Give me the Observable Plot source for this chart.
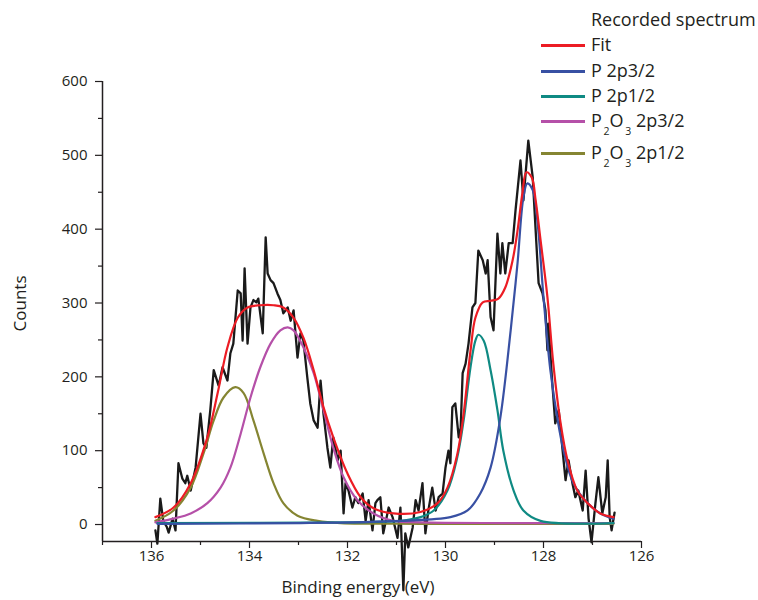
<!DOCTYPE html>
<html>
<head>
<meta charset="utf-8">
<script src="https://cdn.jsdelivr.net/npm/d3@7"></script>
<script src="https://cdn.jsdelivr.net/npm/@observablehq/plot@0.6"></script>
<style>
  html, body { margin: 0; padding: 0; background: #fff; }
  #wrap { position: relative; width: 758px; height: 600px; overflow: hidden; font-family: "Open Sans", sans-serif; color: #231f20; }
  #wrap svg.chart { position: absolute; left: 0; top: 0; }
  .leg { position: absolute; left: 591px; font-size: 18px; line-height: 1; white-space: nowrap; }
  .sw { position: absolute; left: 541px; width: 44px; height: 2.6px; }
  .leg sub { font-size: 10.5px; vertical-align: -8px; }
</style>
</head>
<body>
<div id="wrap"></div>
<script>
// ---- Data ----
const recordedEnergy = [135.92,135.88,135.82,135.76,135.69,135.65,135.57,135.51,135.45,135.37,135.31,135.27,135.20,135.10,135.00,134.94,134.88,134.80,134.73,134.63,134.55,134.45,134.39,134.33,134.24,134.18,134.14,134.10,134.04,133.98,133.92,133.86,133.82,133.73,133.67,133.63,133.57,133.51,133.43,133.37,133.31,133.22,133.16,133.10,133.02,132.96,132.90,132.82,132.76,132.69,132.61,132.55,132.49,132.41,132.35,132.29,132.20,132.14,132.08,132.04,131.98,131.90,131.84,131.78,131.69,131.63,131.57,131.49,131.43,131.39,131.33,131.27,131.16,131.08,130.98,130.92,130.86,130.82,130.76,130.67,130.61,130.55,130.47,130.41,130.35,130.27,130.20,130.14,130.06,130.00,129.94,129.90,129.86,129.80,129.73,129.69,129.65,129.59,129.53,129.45,129.39,129.33,129.24,129.18,129.14,129.08,129.02,128.94,128.88,128.84,128.78,128.71,128.63,128.57,128.51,128.47,128.41,128.31,128.22,128.16,128.10,128.02,127.96,127.92,127.90,127.82,127.76,127.69,127.61,127.55,127.49,127.41,127.35,127.29,127.20,127.14,127.08,127.02,126.94,126.88,126.80,126.73,126.69,126.65,126.61,126.55];
const recordedCounts = [-8,-26,35,5,-3,-11,8,-8,83,62,56,66,46,77,150,110,104,155,209,188,213,195,232,245,317,313,249,347,245,294,304,301,306,259,389,340,331,327,313,304,286,294,276,290,226,259,249,199,164,141,131,195,150,104,77,118,87,100,15,56,46,23,37,29,42,5,33,-8,29,33,37,-12,23,10,-18,23,-89,-12,-31,-4,33,19,56,-12,19,50,19,37,42,77,100,83,159,164,118,131,205,218,245,294,300,371,358,340,358,281,263,394,340,381,340,381,381,426,466,493,439,520,470,398,327,313,290,236,272,191,137,155,100,60,87,56,37,46,19,73,8,-24,29,64,15,37,87,10,-8,16];

const fitEnergy = [135.92,135.55,135.20,134.86,134.65,134.45,134.24,134.04,133.78,133.51,133.31,133.10,132.90,132.69,132.49,132.29,132.00,131.73,131.47,131.06,130.51,130.16,129.96,129.76,129.63,129.49,129.39,129.24,129.08,128.92,128.78,128.63,128.53,128.43,128.35,128.24,128.16,128.06,127.92,127.80,127.65,127.51,127.31,127.10,126.84,126.57];
const fitCounts = [10,23,56,118,178,240,280,294,297,297,294,280,253,209,159,118,69,37,22,15,17,29,50,95,150,235,280,301,303,306,321,358,398,449,477,470,439,385,308,218,137,87,46,29,15,10];

const p2p32Energy = [135.88,132.96,130.92,129.90,129.55,129.29,129.08,128.88,128.67,128.53,128.41,128.33,128.22,128.12,128.00,127.86,127.71,127.59,127.39,127.10,126.84,126.57];
const p2p32Counts = [1,2,5,10,19,42,77,145,263,354,443,462,453,408,308,209,141,100,56,29,15,8];

const p2p12Energy = [135.88,131.94,130.92,130.51,130.24,129.96,129.76,129.63,129.49,129.39,129.33,129.22,129.08,128.94,128.82,128.61,128.41,128.06,126.57];
const p2p12Counts = [2,3,5,10,19,46,91,141,213,249,257,249,209,155,100,46,19,5,2];

const oxide2p32Energy = [135.92,135.55,135.20,134.86,134.59,134.39,134.18,133.98,133.78,133.57,133.37,133.22,133.10,132.90,132.69,132.49,132.29,132.08,131.80,131.47,131.06,130.51,128.88,126.57];
const oxide2p32Counts = [3,8,15,29,50,77,123,172,213,245,263,267,263,240,205,155,104,64,33,15,5,3,2,2];

const oxide2p12Energy = [135.92,135.55,135.20,134.94,134.73,134.53,134.29,134.12,133.92,133.71,133.51,133.31,133.02,132.61,132.14,130.51,126.57];
const oxide2p12Counts = [5,19,50,96,141,172,186,178,141,96,56,29,12,5,2,1,1];

const xMajorTicks = [136,134,132,130,128,126];
const xMinorTicks = [137,135,133,131,129,127];
const yMajorTicks = [0,100,200,300,400,500,600];
const yMinorTicks = [50,150,250,350,450,550];

const seriesNames = ["Recorded spectrum","Fit","P 2p3/2","P 2p1/2","P2O3 2p3/2","P2O3 2p1/2"];
const seriesColors = ["#1a1a1a","#ec1c24","#3850a3","#0f8a83","#b550a8","#858532"];

// ---- Build tables ----
const toRows = (E, C) => E.map((e, i) => ({e, c: C[i]}));
const recorded = toRows(recordedEnergy, recordedCounts);
const fit = toRows(fitEnergy, fitCounts);
const p32 = toRows(p2p32Energy, p2p32Counts);
const p12 = toRows(p2p12Energy, p2p12Counts);
const o32 = toRows(oxide2p32Energy, oxide2p32Counts);
const o12 = toRows(oxide2p12Energy, oxide2p12Counts);

const wrap = document.getElementById("wrap");

const lw = 2.2;
const chart = Plot.plot({
  className: "chart",
  width: 758,
  height: 600,
  marginLeft: 102,
  marginRight: 117,
  marginTop: 81,
  marginBottom: 59,
  style: {fontFamily: "Open Sans, sans-serif", fontSize: "15px", color: "#231f20", background: "transparent"},
  x: {domain: [137, 126], label: null},
  y: {domain: [-23, 600], label: null},
  marks: [
    Plot.line(recorded, {x: "e", y: "c", stroke: seriesColors[0], strokeWidth: 2.3}),
    Plot.line(o12, {x: "e", y: "c", stroke: seriesColors[5], strokeWidth: lw, curve: "catmull-rom"}),
    Plot.line(o32, {x: "e", y: "c", stroke: seriesColors[4], strokeWidth: lw, curve: "catmull-rom"}),
    Plot.line(p12, {x: "e", y: "c", stroke: seriesColors[3], strokeWidth: lw, curve: "catmull-rom"}),
    Plot.line(p32, {x: "e", y: "c", stroke: seriesColors[2], strokeWidth: lw, curve: "catmull-rom"}),
    Plot.line(fit, {x: "e", y: "c", stroke: seriesColors[1], strokeWidth: lw, curve: "catmull-rom"}),
    Plot.ruleY([-23], {stroke: "#231f20", strokeWidth: 1.5}),
    Plot.ruleX([137], {stroke: "#231f20", strokeWidth: 1.5}),
    Plot.axisX({ticks: xMajorTicks, tickSize: 7, tickPadding: 2, stroke: "#231f20", strokeWidth: 1.2, fontSize: 15, label: null}),
    Plot.axisX({ticks: xMinorTicks, tickSize: 4, tickFormat: () => "", stroke: "#231f20", strokeWidth: 1.2, label: null}),
    Plot.axisY({ticks: yMajorTicks, tickSize: 7, tickPadding: 8, stroke: "#231f20", strokeWidth: 1.2, fontSize: 15, label: null}),
    Plot.axisY({ticks: yMinorTicks, tickSize: 4, tickFormat: () => "", stroke: "#231f20", strokeWidth: 1.2, label: null}),
    Plot.text(["Binding energy (eV)"], {frameAnchor: "bottom", dx: -14, dy: 51, fontSize: 17, fill: "#231f20"}),
    Plot.text(["Counts"], {frameAnchor: "left", textAnchor: "middle", dx: -82, dy: -8, rotate: -90, fontSize: 17, fill: "#231f20"})
  ]
});
wrap.appendChild(chart);

// ---- Legend (HTML overlay) ----
const legendRows = [
  {color: null, y: 20, html: "Recorded spectrum"},
  {color: seriesColors[1], y: 45, html: "Fit"},
  {color: seriesColors[2], y: 71, html: "P 2p3/2"},
  {color: seriesColors[3], y: 96, html: "P 2p1/2"},
  {color: seriesColors[4], y: 121, html: "P<sub>&#8201;2</sub>O<sub>&#8201;3</sub> 2p3/2"},
  {color: seriesColors[5], y: 153, html: "P<sub>&#8201;2</sub>O<sub>&#8201;3</sub> 2p1/2"}
];
for (const r of legendRows) {
  const t = document.createElement("div");
  t.className = "leg";
  t.style.top = (r.y - 10) + "px";
  t.innerHTML = r.html;
  wrap.appendChild(t);
  if (r.color) {
    const s = document.createElement("div");
    s.className = "sw";
    s.style.top = (r.y - 1) + "px";
    s.style.background = r.color;
    wrap.appendChild(s);
  }
}
</script>
</body>
</html>
